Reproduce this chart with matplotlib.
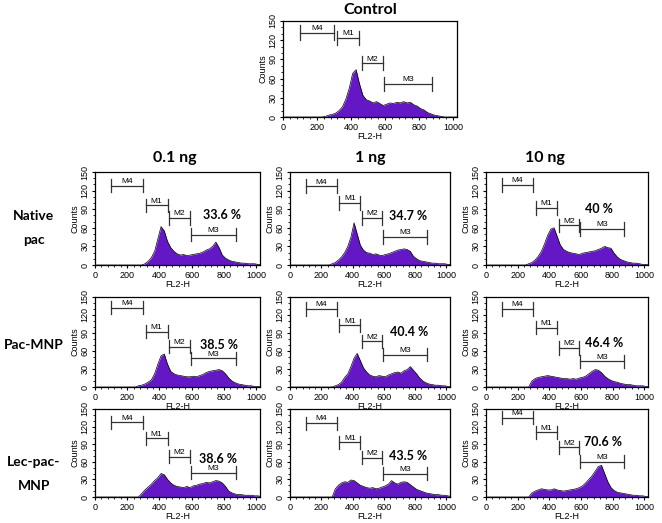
import numpy as np
import matplotlib
matplotlib.use('Agg')
import matplotlib.pyplot as plt
from matplotlib.ticker import MultipleLocator

plt.rcParams['font.family'] = ['Liberation Sans', 'DejaVu Sans']

# channel bin centres (FL2-H), 20 channels wide
channels = np.arange(10, 1050, 20)

control = [0]*12 + [1, 3, 4, 6, 10, 16, 28, 45, 68, 74, 52, 34, 27, 25, 22, 24, 21, 18, 20, 22,
                    21, 23, 22, 24, 22, 23, 19, 17, 13, 11, 7, 5, 3, 2, 1, 0, 0, 0, 0, 0]

native_01 = [0]*15 + [2, 6, 12, 22, 42, 62, 55, 38, 28, 22, 18, 16, 17, 15, 16, 17, 18, 19, 21,
                      24, 26, 30, 37, 28, 16, 11, 8, 6, 5, 4, 3, 3, 2, 2, 2, 1, 1]
native_1 = [0]*13 + [2, 4, 8, 13, 20, 30, 45, 68, 50, 32, 24, 20, 19, 17, 18, 16, 15, 17, 18, 20,
                     22, 24, 25, 26, 25, 22, 14, 10, 7, 6, 5, 4, 3, 3, 2, 2, 2, 1, 1]
native_10 = [0]*13 + [2, 4, 8, 14, 22, 34, 48, 58, 60, 46, 32, 25, 22, 20, 19, 18, 17, 19, 20, 21,
                      22, 23, 25, 27, 30, 28, 27, 19, 13, 9, 7, 5, 4, 3, 3, 2, 1, 1, 0]
pacmnp_01 = [0]*13 + [2, 3, 5, 8, 12, 22, 38, 52, 55, 38, 26, 22, 20, 19, 18, 17, 17, 18, 17, 19,
                      21, 24, 26, 27, 28, 29, 27, 22, 15, 10, 7, 5, 4, 3, 2, 2, 1, 1, 1]
pacmnp_1 = [0]*14 + [2, 4, 8, 16, 22, 34, 48, 56, 44, 32, 25, 20, 18, 17, 19, 18, 17, 20, 22, 24,
                     25, 23, 27, 29, 34, 28, 22, 15, 10, 7, 5, 4, 3, 3, 2, 2, 1, 1]
pacmnp_10 = [0]*14 + [10, 14, 16, 17, 18, 19, 18, 17, 16, 15, 14, 14, 13, 14, 13, 15, 16, 18, 22,
                      26, 29, 28, 24, 18, 14, 11, 9, 8, 6, 5, 4, 4, 3, 2, 2, 2, 1, 1]
lec_01 = [0]*14 + [6, 12, 17, 22, 28, 33, 40, 38, 30, 24, 20, 18, 17, 16, 18, 16, 19, 20, 22, 23,
                   25, 24, 26, 28, 27, 24, 18, 10, 7, 5, 4, 4, 3, 3, 3, 2, 2, 1]
lec_1 = [0]*14 + [14, 20, 24, 26, 25, 29, 28, 24, 20, 18, 16, 15, 16, 14, 15, 17, 19, 22, 28, 24,
                  22, 25, 26, 25, 21, 17, 13, 11, 9, 7, 6, 5, 4, 4, 3, 3, 2, 1]
lec_10 = [0]*14 + [7, 10, 12, 14, 13, 12, 12, 14, 12, 11, 10, 11, 12, 13, 14, 16, 19, 24, 30, 36,
                   44, 52, 54, 40, 26, 16, 11, 8, 7, 6, 5, 4, 3, 3, 2, 2, 1, 1]

grid_data = [[native_01, native_1, native_10],
             [pacmnp_01, pacmnp_1, pacmnp_10],
             [lec_01, lec_1, lec_10]]

col_titles = ['0.1 ng', '1 ng', '10 ng']
row_titles = ['Native\npac', 'Pac-MNP', 'Lec-pac-\nMNP']

percents = [['33.6 %', '34.7 %', '40 %'],
            ['38.5 %', '40.4 %', '46.4 %'],
            ['38.6 %', '43.5 %', '70.6 %']]
percent_pos = [[(790, 80), (754, 79), (716, 90)],
               [(770, 70), (765, 92), (745, 74)],
               [(765, 64), (758, 70), (738, 93)]]

# marker gates (M4, M1, M2, M3): x ranges and y levels per panel
gate_names = ['M4', 'M1', 'M2', 'M3']
gate_x = [(100, 300), (315, 450), (462, 588), (595, 875)]
control_gate_y = [132, 124, 84, 52]
gate_y = [[[128, 96, 76, 49], [127, 100, 76, 45], [129, 92, 64, 58]],
          [[132, 92, 67, 48], [130, 103, 76, 54], [130, 99, 65, 43]],
          [[127, 100, 69, 41], [126, 93, 67, 40], [135, 110, 85, 60]]]

purple = '#6417c4'
W, H = 662, 523


def px_rect(x0, x1, y0, y1):
    return [x0 / W, 1 - y1 / H, (x1 - x0) / W, (y1 - y0) / H]


def draw_panel(ax, counts, gys):
    ax.fill_between(channels, counts, color=purple, lw=0)
    ax.plot(channels, counts, color='black', lw=0.5)
    for name, (g0, g1), gy in zip(gate_names, gate_x, gys):
        ax.plot([g0, g1], [gy, gy], color='#333333', lw=0.9)
        ax.plot([g0, g0], [gy - 11, gy + 11], color='#333333', lw=0.9)
        ax.plot([g1, g1], [gy - 11, gy + 11], color='#333333', lw=0.9)
        ax.text((g0 + g1) / 2, gy + 1, name, ha='center', va='bottom', fontsize=6)
    ax.set_xlim(0, 1024)
    ax.set_ylim(0, 150)
    ax.xaxis.set_major_locator(MultipleLocator(200))
    ax.xaxis.set_minor_locator(MultipleLocator(40))
    ax.yaxis.set_major_locator(MultipleLocator(30))
    ax.yaxis.set_minor_locator(MultipleLocator(10))
    ax.tick_params(labelsize=6.5, length=2.5, width=0.8, pad=1.5)
    ax.tick_params(which='minor', length=1.5, width=0.6)
    for lab in ax.get_yticklabels():
        lab.set_rotation(90)
        lab.set_va('center')
    ax.set_xlabel('FL2-H', fontsize=6.5, labelpad=0)
    ax.set_ylabel('Counts', fontsize=6.5, labelpad=1)
    for s in ax.spines.values():
        s.set_linewidth(0.9)


fig = plt.figure(figsize=(6.62, 5.23), dpi=100)

ax = fig.add_axes(px_rect(283, 457, 21, 117))
draw_panel(ax, control, control_gate_y)
fig.text(370 / W, 1 - 10 / H, 'Control', ha='center', va='center',
         fontsize=11.5, fontweight='bold', family='Lato')

col_x = [(95, 260), (290, 450), (486, 648)]
row_y = [(172, 265), (297, 387), (409, 497)]
title_x = [175, 370, 545]
row_label_y = [228, 345, 474]

for i in range(3):
    for j in range(3):
        ax = fig.add_axes(px_rect(col_x[j][0], col_x[j][1], row_y[i][0], row_y[i][1]))
        draw_panel(ax, grid_data[i][j], gate_y[i][j])
        px, py = percent_pos[i][j]
        ax.text(px, py, percents[i][j], ha='center', va='center', fontsize=9,
                fontweight='bold', family='Lato')
    fig.text(title_x[i] / W, 1 - 158 / H, col_titles[i], ha='center', va='center',
             fontsize=11.5, fontweight='bold', family='Lato')
    fig.text(34 / W, 1 - row_label_y[i] / H, row_titles[i], ha='center', va='center',
             fontsize=10, fontweight='bold', family='Lato', linespacing=2.15)

fig.savefig('out.png', dpi=100)
